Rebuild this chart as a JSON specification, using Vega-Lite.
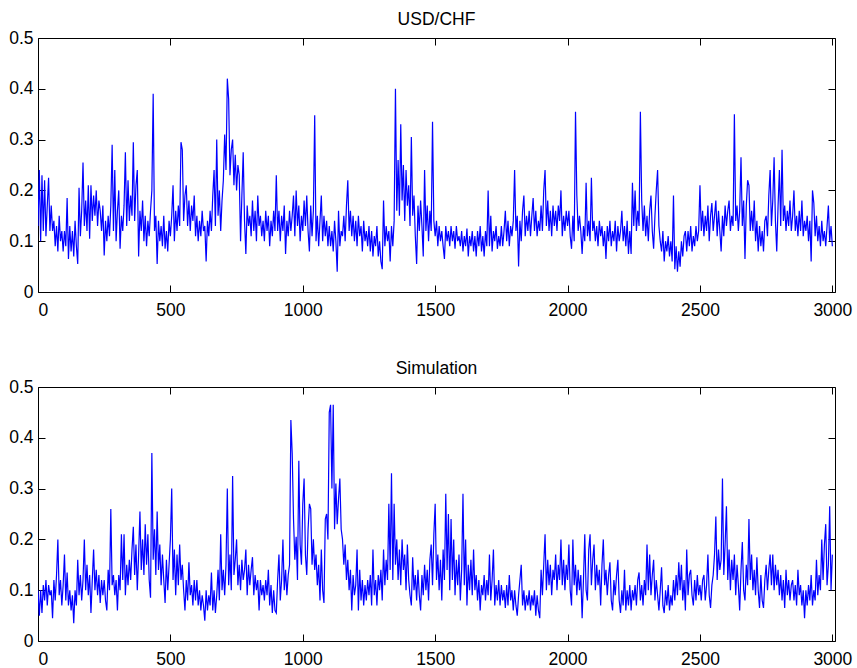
{
"$schema":"https://vega.github.io/schema/vega-lite/v6.json",
"background":"white",
"padding":{"left":8,"top":10,"right":10,"bottom":5},
"spacing":40,
"config":{
"view":{"stroke":"#000","strokeWidth":1},
"axis":{"grid":false,"domain":false,"labelColor":"#000","labelFont":"Liberation Sans","labelFontSize":17.5},
"title":{"font":"Liberation Sans","fontSize":17.5,"fontWeight":"normal","color":"#000","offset":1}
},
"data":{"values":[
{"t":0,"a":0.13,"b":0.10},{"t":5,"a":0.24,"b":0.05},{"t":10,"a":0.10,"b":0.10},{"t":15,"a":0.23,"b":0.055},{"t":20,"a":0.12,"b":0.11},{"t":25,"a":0.22,"b":0.08},{"t":30,"a":0.11,"b":0.12},{"t":35,"a":0.17,"b":0.07},{"t":40,"a":0.225,"b":0.11},{"t":45,"a":0.12,"b":0.09},
{"t":50,"a":0.17,"b":0.10},{"t":55,"a":0.12,"b":0.045},{"t":60,"a":0.14,"b":0.12},{"t":65,"a":0.09,"b":0.08},{"t":70,"a":0.13,"b":0.13},{"t":75,"a":0.08,"b":0.20},{"t":80,"a":0.15,"b":0.09},{"t":85,"a":0.10,"b":0.12},{"t":90,"a":0.12,"b":0.07},{"t":95,"a":0.08,"b":0.11},
{"t":100,"a":0.12,"b":0.17},{"t":105,"a":0.09,"b":0.08},{"t":110,"a":0.185,"b":0.135},{"t":115,"a":0.065,"b":0.07},{"t":120,"a":0.13,"b":0.10},{"t":125,"a":0.08,"b":0.06},{"t":130,"a":0.12,"b":0.09},{"t":135,"a":0.07,"b":0.035},{"t":140,"a":0.14,"b":0.10},{"t":145,"a":0.09,"b":0.07},
{"t":150,"a":0.055,"b":0.16},{"t":155,"a":0.205,"b":0.09},{"t":160,"a":0.11,"b":0.13},{"t":165,"a":0.16,"b":0.08},{"t":170,"a":0.255,"b":0.12},{"t":175,"a":0.13,"b":0.20},{"t":180,"a":0.18,"b":0.10},{"t":185,"a":0.12,"b":0.15},{"t":190,"a":0.21,"b":0.09},{"t":195,"a":0.105,"b":0.13},
{"t":200,"a":0.21,"b":0.055},{"t":205,"a":0.14,"b":0.12},{"t":210,"a":0.19,"b":0.18},{"t":215,"a":0.15,"b":0.10},{"t":220,"a":0.20,"b":0.14},{"t":225,"a":0.13,"b":0.09},{"t":230,"a":0.18,"b":0.13},{"t":235,"a":0.16,"b":0.075},{"t":240,"a":0.12,"b":0.12},{"t":245,"a":0.17,"b":0.09},
{"t":250,"a":0.072,"b":0.12},{"t":255,"a":0.14,"b":0.08},{"t":260,"a":0.10,"b":0.06},{"t":265,"a":0.15,"b":0.14},{"t":270,"a":0.11,"b":0.10},{"t":275,"a":0.17,"b":0.26},{"t":280,"a":0.29,"b":0.11},{"t":285,"a":0.12,"b":0.13},{"t":290,"a":0.24,"b":0.09},{"t":295,"a":0.10,"b":0.12},
{"t":300,"a":0.16,"b":0.06},{"t":305,"a":0.20,"b":0.13},{"t":310,"a":0.085,"b":0.10},{"t":315,"a":0.15,"b":0.21},{"t":320,"a":0.12,"b":0.12},{"t":325,"a":0.17,"b":0.21},{"t":330,"a":0.275,"b":0.09},{"t":335,"a":0.13,"b":0.15},{"t":340,"a":0.22,"b":0.11},{"t":345,"a":0.14,"b":0.16},
{"t":350,"a":0.19,"b":0.12},{"t":355,"a":0.15,"b":0.18},{"t":360,"a":0.295,"b":0.225},{"t":365,"a":0.14,"b":0.13},{"t":370,"a":0.21,"b":0.19},{"t":375,"a":0.24,"b":0.10},{"t":380,"a":0.07,"b":0.17},{"t":385,"a":0.16,"b":0.255},{"t":390,"a":0.12,"b":0.14},{"t":395,"a":0.18,"b":0.20},
{"t":400,"a":0.10,"b":0.13},{"t":405,"a":0.15,"b":0.23},{"t":410,"a":0.09,"b":0.15},{"t":415,"a":0.14,"b":0.21},{"t":420,"a":0.11,"b":0.12},{"t":425,"a":0.16,"b":0.085},{"t":430,"a":0.20,"b":0.37},{"t":435,"a":0.39,"b":0.16},{"t":440,"a":0.12,"b":0.22},{"t":445,"a":0.15,"b":0.13},
{"t":450,"a":0.055,"b":0.255},{"t":455,"a":0.14,"b":0.14},{"t":460,"a":0.10,"b":0.19},{"t":465,"a":0.13,"b":0.11},{"t":470,"a":0.09,"b":0.17},{"t":475,"a":0.15,"b":0.12},{"t":480,"a":0.085,"b":0.075},{"t":485,"a":0.12,"b":0.16},{"t":490,"a":0.08,"b":0.10},{"t":495,"a":0.14,"b":0.15},
{"t":500,"a":0.11,"b":0.20},{"t":505,"a":0.15,"b":0.30},{"t":510,"a":0.21,"b":0.12},{"t":515,"a":0.10,"b":0.18},{"t":520,"a":0.16,"b":0.09},{"t":525,"a":0.12,"b":0.17},{"t":530,"a":0.17,"b":0.11},{"t":535,"a":0.13,"b":0.19},{"t":540,"a":0.295,"b":0.12},{"t":545,"a":0.28,"b":0.15},
{"t":550,"a":0.14,"b":0.10},{"t":555,"a":0.19,"b":0.06},{"t":560,"a":0.21,"b":0.12},{"t":565,"a":0.13,"b":0.08},{"t":570,"a":0.18,"b":0.155},{"t":575,"a":0.12,"b":0.09},{"t":580,"a":0.17,"b":0.11},{"t":585,"a":0.14,"b":0.07},{"t":590,"a":0.19,"b":0.12},{"t":595,"a":0.11,"b":0.08},
{"t":600,"a":0.15,"b":0.12},{"t":605,"a":0.10,"b":0.07},{"t":610,"a":0.14,"b":0.10},{"t":615,"a":0.11,"b":0.06},{"t":620,"a":0.16,"b":0.09},{"t":625,"a":0.12,"b":0.07},{"t":630,"a":0.13,"b":0.04},{"t":635,"a":0.06,"b":0.10},{"t":640,"a":0.14,"b":0.06},{"t":645,"a":0.11,"b":0.09},
{"t":650,"a":0.16,"b":0.07},{"t":655,"a":0.12,"b":0.135},{"t":660,"a":0.19,"b":0.06},{"t":665,"a":0.24,"b":0.10},{"t":670,"a":0.13,"b":0.055},{"t":675,"a":0.30,"b":0.09},{"t":680,"a":0.15,"b":0.14},{"t":685,"a":0.20,"b":0.08},{"t":690,"a":0.12,"b":0.21},{"t":695,"a":0.18,"b":0.10},
{"t":700,"a":0.22,"b":0.14},{"t":705,"a":0.31,"b":0.09},{"t":710,"a":0.24,"b":0.15},{"t":715,"a":0.42,"b":0.30},{"t":720,"a":0.38,"b":0.11},{"t":725,"a":0.23,"b":0.17},{"t":730,"a":0.28,"b":0.10},{"t":735,"a":0.30,"b":0.325},{"t":740,"a":0.21,"b":0.13},{"t":745,"a":0.27,"b":0.16},
{"t":750,"a":0.20,"b":0.20},{"t":755,"a":0.25,"b":0.11},{"t":760,"a":0.23,"b":0.15},{"t":765,"a":0.10,"b":0.10},{"t":770,"a":0.19,"b":0.16},{"t":775,"a":0.275,"b":0.12},{"t":780,"a":0.14,"b":0.14},{"t":785,"a":0.075,"b":0.18},{"t":790,"a":0.17,"b":0.09},{"t":795,"a":0.13,"b":0.15},
{"t":800,"a":0.15,"b":0.11},{"t":805,"a":0.11,"b":0.14},{"t":810,"a":0.18,"b":0.165},{"t":815,"a":0.12,"b":0.09},{"t":820,"a":0.16,"b":0.13},{"t":825,"a":0.10,"b":0.10},{"t":830,"a":0.19,"b":0.12},{"t":835,"a":0.13,"b":0.06},{"t":840,"a":0.15,"b":0.12},{"t":845,"a":0.11,"b":0.09},
{"t":850,"a":0.14,"b":0.11},{"t":855,"a":0.10,"b":0.08},{"t":860,"a":0.16,"b":0.12},{"t":865,"a":0.12,"b":0.09},{"t":870,"a":0.15,"b":0.14},{"t":875,"a":0.09,"b":0.07},{"t":880,"a":0.14,"b":0.11},{"t":885,"a":0.11,"b":0.055},{"t":890,"a":0.16,"b":0.10},{"t":895,"a":0.12,"b":0.06},
{"t":900,"a":0.23,"b":0.055},{"t":905,"a":0.12,"b":0.12},{"t":910,"a":0.16,"b":0.17},{"t":915,"a":0.10,"b":0.08},{"t":920,"a":0.15,"b":0.12},{"t":925,"a":0.12,"b":0.20},{"t":930,"a":0.17,"b":0.10},{"t":935,"a":0.075,"b":0.14},{"t":940,"a":0.14,"b":0.09},{"t":945,"a":0.11,"b":0.13},
{"t":950,"a":0.16,"b":0.15},{"t":955,"a":0.12,"b":0.435},{"t":960,"a":0.15,"b":0.37},{"t":965,"a":0.19,"b":0.24},{"t":970,"a":0.11,"b":0.16},{"t":975,"a":0.20,"b":0.205},{"t":980,"a":0.13,"b":0.12},{"t":985,"a":0.17,"b":0.355},{"t":990,"a":0.10,"b":0.19},{"t":995,"a":0.15,"b":0.15},
{"t":1000,"a":0.12,"b":0.27},{"t":1005,"a":0.18,"b":0.32},{"t":1010,"a":0.13,"b":0.17},{"t":1015,"a":0.19,"b":0.13},{"t":1020,"a":0.12,"b":0.22},{"t":1025,"a":0.08,"b":0.27},{"t":1030,"a":0.17,"b":0.26},{"t":1035,"a":0.11,"b":0.15},{"t":1040,"a":0.16,"b":0.20},{"t":1045,"a":0.348,"b":0.14},
{"t":1050,"a":0.10,"b":0.17},{"t":1055,"a":0.15,"b":0.11},{"t":1060,"a":0.09,"b":0.15},{"t":1065,"a":0.14,"b":0.08},{"t":1070,"a":0.19,"b":0.18},{"t":1075,"a":0.10,"b":0.10},{"t":1080,"a":0.15,"b":0.075},{"t":1085,"a":0.11,"b":0.24},{"t":1090,"a":0.14,"b":0.25},{"t":1095,"a":0.09,"b":0.20},
{"t":1100,"a":0.13,"b":0.45},{"t":1105,"a":0.09,"b":0.465},{"t":1110,"a":0.12,"b":0.30},{"t":1115,"a":0.08,"b":0.465},{"t":1120,"a":0.14,"b":0.22},{"t":1125,"a":0.10,"b":0.31},{"t":1130,"a":0.04,"b":0.23},{"t":1135,"a":0.16,"b":0.28},{"t":1140,"a":0.09,"b":0.32},{"t":1145,"a":0.12,"b":0.22},
{"t":1150,"a":0.11,"b":0.20},{"t":1155,"a":0.15,"b":0.15},{"t":1160,"a":0.10,"b":0.19},{"t":1165,"a":0.17,"b":0.12},{"t":1170,"a":0.22,"b":0.16},{"t":1175,"a":0.12,"b":0.10},{"t":1180,"a":0.16,"b":0.14},{"t":1185,"a":0.11,"b":0.06},{"t":1190,"a":0.15,"b":0.13},{"t":1195,"a":0.10,"b":0.09},
{"t":1200,"a":0.14,"b":0.11},{"t":1205,"a":0.09,"b":0.18},{"t":1210,"a":0.15,"b":0.06},{"t":1215,"a":0.11,"b":0.14},{"t":1220,"a":0.13,"b":0.08},{"t":1225,"a":0.08,"b":0.12},{"t":1230,"a":0.14,"b":0.07},{"t":1235,"a":0.10,"b":0.11},{"t":1240,"a":0.12,"b":0.08},{"t":1245,"a":0.09,"b":0.12},
{"t":1250,"a":0.13,"b":0.09},{"t":1255,"a":0.08,"b":0.13},{"t":1260,"a":0.12,"b":0.07},{"t":1265,"a":0.07,"b":0.18},{"t":1270,"a":0.11,"b":0.09},{"t":1275,"a":0.09,"b":0.12},{"t":1280,"a":0.13,"b":0.07},{"t":1285,"a":0.07,"b":0.13},{"t":1290,"a":0.10,"b":0.10},{"t":1295,"a":0.06,"b":0.14},
{"t":1300,"a":0.045,"b":0.08},{"t":1305,"a":0.18,"b":0.18},{"t":1310,"a":0.09,"b":0.11},{"t":1315,"a":0.13,"b":0.16},{"t":1320,"a":0.10,"b":0.12},{"t":1325,"a":0.12,"b":0.27},{"t":1330,"a":0.06,"b":0.14},{"t":1335,"a":0.13,"b":0.33},{"t":1340,"a":0.09,"b":0.12},{"t":1345,"a":0.14,"b":0.27},
{"t":1350,"a":0.40,"b":0.15},{"t":1355,"a":0.16,"b":0.20},{"t":1360,"a":0.26,"b":0.12},{"t":1365,"a":0.15,"b":0.18},{"t":1370,"a":0.33,"b":0.11},{"t":1375,"a":0.18,"b":0.20},{"t":1380,"a":0.25,"b":0.14},{"t":1385,"a":0.14,"b":0.17},{"t":1390,"a":0.24,"b":0.10},{"t":1395,"a":0.17,"b":0.19},
{"t":1400,"a":0.21,"b":0.12},{"t":1405,"a":0.13,"b":0.09},{"t":1410,"a":0.305,"b":0.07},{"t":1415,"a":0.15,"b":0.165},{"t":1420,"a":0.19,"b":0.10},{"t":1425,"a":0.11,"b":0.13},{"t":1430,"a":0.055,"b":0.08},{"t":1435,"a":0.17,"b":0.14},{"t":1440,"a":0.12,"b":0.09},{"t":1445,"a":0.18,"b":0.06},
{"t":1450,"a":0.13,"b":0.13},{"t":1455,"a":0.07,"b":0.09},{"t":1460,"a":0.24,"b":0.15},{"t":1465,"a":0.12,"b":0.10},{"t":1470,"a":0.17,"b":0.14},{"t":1475,"a":0.10,"b":0.08},{"t":1480,"a":0.16,"b":0.16},{"t":1485,"a":0.12,"b":0.19},{"t":1490,"a":0.335,"b":0.11},{"t":1495,"a":0.14,"b":0.21},
{"t":1500,"a":0.11,"b":0.27},{"t":1505,"a":0.14,"b":0.12},{"t":1510,"a":0.09,"b":0.17},{"t":1515,"a":0.13,"b":0.10},{"t":1520,"a":0.10,"b":0.16},{"t":1525,"a":0.12,"b":0.08},{"t":1530,"a":0.09,"b":0.18},{"t":1535,"a":0.065,"b":0.12},{"t":1540,"a":0.13,"b":0.29},{"t":1545,"a":0.10,"b":0.14},
{"t":1550,"a":0.12,"b":0.25},{"t":1555,"a":0.09,"b":0.10},{"t":1560,"a":0.13,"b":0.24},{"t":1565,"a":0.10,"b":0.12},{"t":1570,"a":0.12,"b":0.20},{"t":1575,"a":0.085,"b":0.09},{"t":1580,"a":0.13,"b":0.16},{"t":1585,"a":0.10,"b":0.11},{"t":1590,"a":0.11,"b":0.17},{"t":1595,"a":0.09,"b":0.08},
{"t":1600,"a":0.12,"b":0.14},{"t":1605,"a":0.08,"b":0.29},{"t":1610,"a":0.11,"b":0.11},{"t":1615,"a":0.09,"b":0.20},{"t":1620,"a":0.125,"b":0.07},{"t":1625,"a":0.07,"b":0.15},{"t":1630,"a":0.11,"b":0.10},{"t":1635,"a":0.09,"b":0.16},{"t":1640,"a":0.12,"b":0.09},{"t":1645,"a":0.08,"b":0.18},
{"t":1650,"a":0.11,"b":0.10},{"t":1655,"a":0.07,"b":0.13},{"t":1660,"a":0.12,"b":0.08},{"t":1665,"a":0.09,"b":0.12},{"t":1670,"a":0.13,"b":0.06},{"t":1675,"a":0.08,"b":0.11},{"t":1680,"a":0.11,"b":0.09},{"t":1685,"a":0.07,"b":0.13},{"t":1690,"a":0.12,"b":0.08},{"t":1695,"a":0.09,"b":0.12},
{"t":1700,"a":0.20,"b":0.09},{"t":1705,"a":0.09,"b":0.17},{"t":1710,"a":0.15,"b":0.08},{"t":1715,"a":0.08,"b":0.12},{"t":1720,"a":0.12,"b":0.18},{"t":1725,"a":0.10,"b":0.07},{"t":1730,"a":0.13,"b":0.11},{"t":1735,"a":0.085,"b":0.08},{"t":1740,"a":0.11,"b":0.12},{"t":1745,"a":0.09,"b":0.07},
{"t":1750,"a":0.13,"b":0.11},{"t":1755,"a":0.09,"b":0.08},{"t":1760,"a":0.12,"b":0.10},{"t":1765,"a":0.16,"b":0.065},{"t":1770,"a":0.10,"b":0.11},{"t":1775,"a":0.14,"b":0.07},{"t":1780,"a":0.09,"b":0.13},{"t":1785,"a":0.13,"b":0.08},{"t":1790,"a":0.11,"b":0.10},{"t":1795,"a":0.14,"b":0.06},
{"t":1800,"a":0.24,"b":0.10},{"t":1805,"a":0.12,"b":0.07},{"t":1810,"a":0.15,"b":0.05},{"t":1815,"a":0.05,"b":0.09},{"t":1820,"a":0.14,"b":0.12},{"t":1825,"a":0.10,"b":0.15},{"t":1830,"a":0.16,"b":0.07},{"t":1835,"a":0.19,"b":0.10},{"t":1840,"a":0.11,"b":0.06},{"t":1845,"a":0.15,"b":0.09},
{"t":1850,"a":0.12,"b":0.07},{"t":1855,"a":0.16,"b":0.10},{"t":1860,"a":0.11,"b":0.06},{"t":1865,"a":0.15,"b":0.09},{"t":1870,"a":0.185,"b":0.07},{"t":1875,"a":0.12,"b":0.10},{"t":1880,"a":0.16,"b":0.05},{"t":1885,"a":0.11,"b":0.09},{"t":1890,"a":0.14,"b":0.06},{"t":1895,"a":0.12,"b":0.045},
{"t":1900,"a":0.17,"b":0.14},{"t":1905,"a":0.12,"b":0.09},{"t":1910,"a":0.20,"b":0.15},{"t":1915,"a":0.24,"b":0.21},{"t":1920,"a":0.13,"b":0.10},{"t":1925,"a":0.18,"b":0.16},{"t":1930,"a":0.12,"b":0.11},{"t":1935,"a":0.16,"b":0.15},{"t":1940,"a":0.11,"b":0.09},{"t":1945,"a":0.17,"b":0.14},
{"t":1950,"a":0.13,"b":0.12},{"t":1955,"a":0.16,"b":0.17},{"t":1960,"a":0.12,"b":0.10},{"t":1965,"a":0.17,"b":0.15},{"t":1970,"a":0.14,"b":0.12},{"t":1975,"a":0.20,"b":0.20},{"t":1980,"a":0.11,"b":0.11},{"t":1985,"a":0.15,"b":0.16},{"t":1990,"a":0.12,"b":0.10},{"t":1995,"a":0.16,"b":0.15},
{"t":2000,"a":0.13,"b":0.12},{"t":2005,"a":0.16,"b":0.19},{"t":2010,"a":0.11,"b":0.10},{"t":2015,"a":0.085,"b":0.07},{"t":2020,"a":0.15,"b":0.20},{"t":2025,"a":0.10,"b":0.11},{"t":2030,"a":0.355,"b":0.15},{"t":2035,"a":0.19,"b":0.09},{"t":2040,"a":0.12,"b":0.14},{"t":2045,"a":0.15,"b":0.10},
{"t":2050,"a":0.12,"b":0.13},{"t":2055,"a":0.075,"b":0.045},{"t":2060,"a":0.13,"b":0.12},{"t":2065,"a":0.10,"b":0.21},{"t":2070,"a":0.215,"b":0.10},{"t":2075,"a":0.11,"b":0.08},{"t":2080,"a":0.14,"b":0.18},{"t":2085,"a":0.10,"b":0.21},{"t":2090,"a":0.225,"b":0.11},{"t":2095,"a":0.12,"b":0.16},
{"t":2100,"a":0.14,"b":0.19},{"t":2105,"a":0.10,"b":0.10},{"t":2110,"a":0.13,"b":0.15},{"t":2115,"a":0.09,"b":0.11},{"t":2120,"a":0.14,"b":0.14},{"t":2125,"a":0.11,"b":0.07},{"t":2130,"a":0.13,"b":0.15},{"t":2135,"a":0.09,"b":0.20},{"t":2140,"a":0.12,"b":0.11},{"t":2145,"a":0.065,"b":0.14},
{"t":2150,"a":0.13,"b":0.09},{"t":2155,"a":0.10,"b":0.13},{"t":2160,"a":0.14,"b":0.155},{"t":2165,"a":0.09,"b":0.08},{"t":2170,"a":0.12,"b":0.06},{"t":2175,"a":0.10,"b":0.12},{"t":2180,"a":0.14,"b":0.09},{"t":2185,"a":0.08,"b":0.13},{"t":2190,"a":0.13,"b":0.16},{"t":2195,"a":0.10,"b":0.08},
{"t":2200,"a":0.12,"b":0.055},{"t":2205,"a":0.16,"b":0.10},{"t":2210,"a":0.10,"b":0.07},{"t":2215,"a":0.13,"b":0.14},{"t":2220,"a":0.09,"b":0.06},{"t":2225,"a":0.14,"b":0.10},{"t":2230,"a":0.075,"b":0.07},{"t":2235,"a":0.12,"b":0.11},{"t":2240,"a":0.075,"b":0.06},{"t":2245,"a":0.215,"b":0.10},
{"t":2250,"a":0.13,"b":0.08},{"t":2255,"a":0.20,"b":0.11},{"t":2260,"a":0.12,"b":0.07},{"t":2265,"a":0.16,"b":0.12},{"t":2270,"a":0.13,"b":0.135},{"t":2275,"a":0.355,"b":0.08},{"t":2280,"a":0.18,"b":0.11},{"t":2285,"a":0.12,"b":0.07},{"t":2290,"a":0.17,"b":0.12},{"t":2295,"a":0.11,"b":0.09},
{"t":2300,"a":0.15,"b":0.19},{"t":2305,"a":0.10,"b":0.10},{"t":2310,"a":0.16,"b":0.17},{"t":2315,"a":0.19,"b":0.09},{"t":2320,"a":0.12,"b":0.13},{"t":2325,"a":0.085,"b":0.16},{"t":2330,"a":0.15,"b":0.08},{"t":2335,"a":0.20,"b":0.12},{"t":2340,"a":0.24,"b":0.09},{"t":2345,"a":0.13,"b":0.06},
{"t":2350,"a":0.10,"b":0.10},{"t":2355,"a":0.08,"b":0.145},{"t":2360,"a":0.12,"b":0.07},{"t":2365,"a":0.06,"b":0.055},{"t":2370,"a":0.10,"b":0.10},{"t":2375,"a":0.08,"b":0.07},{"t":2380,"a":0.11,"b":0.11},{"t":2385,"a":0.07,"b":0.06},{"t":2390,"a":0.10,"b":0.09},{"t":2395,"a":0.06,"b":0.07},
{"t":2400,"a":0.19,"b":0.12},{"t":2405,"a":0.045,"b":0.08},{"t":2410,"a":0.09,"b":0.13},{"t":2415,"a":0.04,"b":0.09},{"t":2420,"a":0.08,"b":0.155},{"t":2425,"a":0.05,"b":0.10},{"t":2430,"a":0.10,"b":0.15},{"t":2435,"a":0.07,"b":0.08},{"t":2440,"a":0.11,"b":0.12},{"t":2445,"a":0.12,"b":0.06},
{"t":2450,"a":0.08,"b":0.18},{"t":2455,"a":0.12,"b":0.09},{"t":2460,"a":0.09,"b":0.13},{"t":2465,"a":0.13,"b":0.14},{"t":2470,"a":0.08,"b":0.09},{"t":2475,"a":0.11,"b":0.07},{"t":2480,"a":0.09,"b":0.12},{"t":2485,"a":0.13,"b":0.08},{"t":2490,"a":0.10,"b":0.13},{"t":2495,"a":0.12,"b":0.09},
{"t":2500,"a":0.21,"b":0.11},{"t":2505,"a":0.12,"b":0.08},{"t":2510,"a":0.16,"b":0.12},{"t":2515,"a":0.11,"b":0.13},{"t":2520,"a":0.15,"b":0.08},{"t":2525,"a":0.12,"b":0.11},{"t":2530,"a":0.17,"b":0.17},{"t":2535,"a":0.10,"b":0.09},{"t":2540,"a":0.15,"b":0.065},{"t":2545,"a":0.175,"b":0.11},
{"t":2550,"a":0.12,"b":0.13},{"t":2555,"a":0.15,"b":0.17},{"t":2560,"a":0.18,"b":0.245},{"t":2565,"a":0.11,"b":0.12},{"t":2570,"a":0.16,"b":0.18},{"t":2575,"a":0.12,"b":0.14},{"t":2580,"a":0.08,"b":0.16},{"t":2585,"a":0.15,"b":0.32},{"t":2590,"a":0.11,"b":0.13},{"t":2595,"a":0.17,"b":0.19},
{"t":2600,"a":0.13,"b":0.265},{"t":2605,"a":0.16,"b":0.12},{"t":2610,"a":0.18,"b":0.18},{"t":2615,"a":0.12,"b":0.10},{"t":2620,"a":0.15,"b":0.16},{"t":2625,"a":0.13,"b":0.12},{"t":2630,"a":0.35,"b":0.17},{"t":2635,"a":0.14,"b":0.09},{"t":2640,"a":0.17,"b":0.15},{"t":2645,"a":0.12,"b":0.11},
{"t":2650,"a":0.16,"b":0.06},{"t":2655,"a":0.265,"b":0.14},{"t":2660,"a":0.13,"b":0.195},{"t":2665,"a":0.18,"b":0.10},{"t":2670,"a":0.065,"b":0.08},{"t":2675,"a":0.17,"b":0.15},{"t":2680,"a":0.22,"b":0.11},{"t":2685,"a":0.21,"b":0.24},{"t":2690,"a":0.12,"b":0.12},{"t":2695,"a":0.16,"b":0.17},
{"t":2700,"a":0.12,"b":0.10},{"t":2705,"a":0.18,"b":0.14},{"t":2710,"a":0.10,"b":0.09},{"t":2715,"a":0.14,"b":0.165},{"t":2720,"a":0.08,"b":0.10},{"t":2725,"a":0.13,"b":0.065},{"t":2730,"a":0.09,"b":0.13},{"t":2735,"a":0.12,"b":0.08},{"t":2740,"a":0.08,"b":0.065},{"t":2745,"a":0.14,"b":0.12},
{"t":2750,"a":0.15,"b":0.15},{"t":2755,"a":0.11,"b":0.10},{"t":2760,"a":0.19,"b":0.14},{"t":2765,"a":0.24,"b":0.17},{"t":2770,"a":0.13,"b":0.11},{"t":2775,"a":0.18,"b":0.17},{"t":2780,"a":0.265,"b":0.10},{"t":2785,"a":0.14,"b":0.15},{"t":2790,"a":0.08,"b":0.11},{"t":2795,"a":0.17,"b":0.14},
{"t":2800,"a":0.24,"b":0.09},{"t":2805,"a":0.13,"b":0.13},{"t":2810,"a":0.28,"b":0.08},{"t":2815,"a":0.14,"b":0.12},{"t":2820,"a":0.17,"b":0.065},{"t":2825,"a":0.12,"b":0.14},{"t":2830,"a":0.16,"b":0.09},{"t":2835,"a":0.13,"b":0.12},{"t":2840,"a":0.18,"b":0.08},{"t":2845,"a":0.12,"b":0.11},
{"t":2850,"a":0.15,"b":0.12},{"t":2855,"a":0.20,"b":0.08},{"t":2860,"a":0.12,"b":0.11},{"t":2865,"a":0.15,"b":0.07},{"t":2870,"a":0.11,"b":0.14},{"t":2875,"a":0.16,"b":0.09},{"t":2880,"a":0.12,"b":0.11},{"t":2885,"a":0.18,"b":0.07},{"t":2890,"a":0.11,"b":0.10},{"t":2895,"a":0.14,"b":0.045},
{"t":2900,"a":0.12,"b":0.10},{"t":2905,"a":0.15,"b":0.07},{"t":2910,"a":0.10,"b":0.11},{"t":2915,"a":0.14,"b":0.08},{"t":2920,"a":0.06,"b":0.13},{"t":2925,"a":0.20,"b":0.07},{"t":2930,"a":0.175,"b":0.10},{"t":2935,"a":0.11,"b":0.08},{"t":2940,"a":0.15,"b":0.16},{"t":2945,"a":0.10,"b":0.09},
{"t":2950,"a":0.13,"b":0.13},{"t":2955,"a":0.09,"b":0.10},{"t":2960,"a":0.14,"b":0.20},{"t":2965,"a":0.10,"b":0.12},{"t":2970,"a":0.12,"b":0.19},{"t":2975,"a":0.09,"b":0.23},{"t":2980,"a":0.13,"b":0.11},{"t":2985,"a":0.17,"b":0.15},{"t":2990,"a":0.10,"b":0.265},{"t":2995,"a":0.13,"b":0.10},
{"t":3000,"a":0.09,"b":0.17}
]},
"vconcat":[
{
"title":"USD/CHF",
"width":797,"height":254,
"layer":[
{"mark":{"type":"line","color":"#0000ff","strokeWidth":1.2,"clip":true},
"encoding":{
"x":{"field":"t","type":"quantitative","scale":{"domain":[0,3010],"nice":false,"zero":false},"axis":{"orient":"bottom","values":[0,500,1000,1500,2000,2500,3000],"format":"d","title":null,"ticks":true,"tickSize":7,"tickWidth":1,"tickColor":"black","tickOpacity":1,"offset":-7,"labelPadding":9}},
"y":{"field":"a","type":"quantitative","scale":{"domain":[0,0.5],"nice":false},"axis":{"orient":"left","values":[0,0.1,0.2,0.3,0.4,0.5],"labelExpr":"datum.value == 0 ? '0' : format(datum.value, '.1f')","title":null,"ticks":true,"tickSize":7,"tickWidth":1,"tickColor":"black","tickOpacity":1,"offset":-7,"labelPadding":5}}}},
{"mark":{"type":"line","strokeOpacity":0},
"encoding":{
"x":{"field":"t","type":"quantitative","scale":{"domain":[0,3010],"nice":false,"zero":false},"axis":{"orient":"top","values":[0,500,1000,1500,2000,2500,3000],"labels":false,"title":null,"ticks":true,"tickSize":7,"tickWidth":1,"tickColor":"black","tickOpacity":1,"offset":-7}},
"y":{"field":"a","type":"quantitative","scale":{"domain":[0,0.5],"nice":false},"axis":{"orient":"right","values":[0,0.1,0.2,0.3,0.4,0.5],"labels":false,"title":null,"ticks":true,"tickSize":7,"tickWidth":1,"tickColor":"black","tickOpacity":1,"offset":-7}}}}
],
"resolve":{"axis":{"x":"independent","y":"independent"}}
},
{
"title":"Simulation",
"width":797,"height":254,
"layer":[
{"mark":{"type":"line","color":"#0000ff","strokeWidth":1.2,"clip":true},
"encoding":{
"x":{"field":"t","type":"quantitative","scale":{"domain":[0,3010],"nice":false,"zero":false},"axis":{"orient":"bottom","values":[0,500,1000,1500,2000,2500,3000],"format":"d","title":null,"ticks":true,"tickSize":7,"tickWidth":1,"tickColor":"black","tickOpacity":1,"offset":-7,"labelPadding":9}},
"y":{"field":"b","type":"quantitative","scale":{"domain":[0,0.5],"nice":false},"axis":{"orient":"left","values":[0,0.1,0.2,0.3,0.4,0.5],"labelExpr":"datum.value == 0 ? '0' : format(datum.value, '.1f')","title":null,"ticks":true,"tickSize":7,"tickWidth":1,"tickColor":"black","tickOpacity":1,"offset":-7,"labelPadding":5}}}},
{"mark":{"type":"line","strokeOpacity":0},
"encoding":{
"x":{"field":"t","type":"quantitative","scale":{"domain":[0,3010],"nice":false,"zero":false},"axis":{"orient":"top","values":[0,500,1000,1500,2000,2500,3000],"labels":false,"title":null,"ticks":true,"tickSize":7,"tickWidth":1,"tickColor":"black","tickOpacity":1,"offset":-7}},
"y":{"field":"b","type":"quantitative","scale":{"domain":[0,0.5],"nice":false},"axis":{"orient":"right","values":[0,0.1,0.2,0.3,0.4,0.5],"labels":false,"title":null,"ticks":true,"tickSize":7,"tickWidth":1,"tickColor":"black","tickOpacity":1,"offset":-7}}}}
],
"resolve":{"axis":{"x":"independent","y":"independent"}}
}
]
}
